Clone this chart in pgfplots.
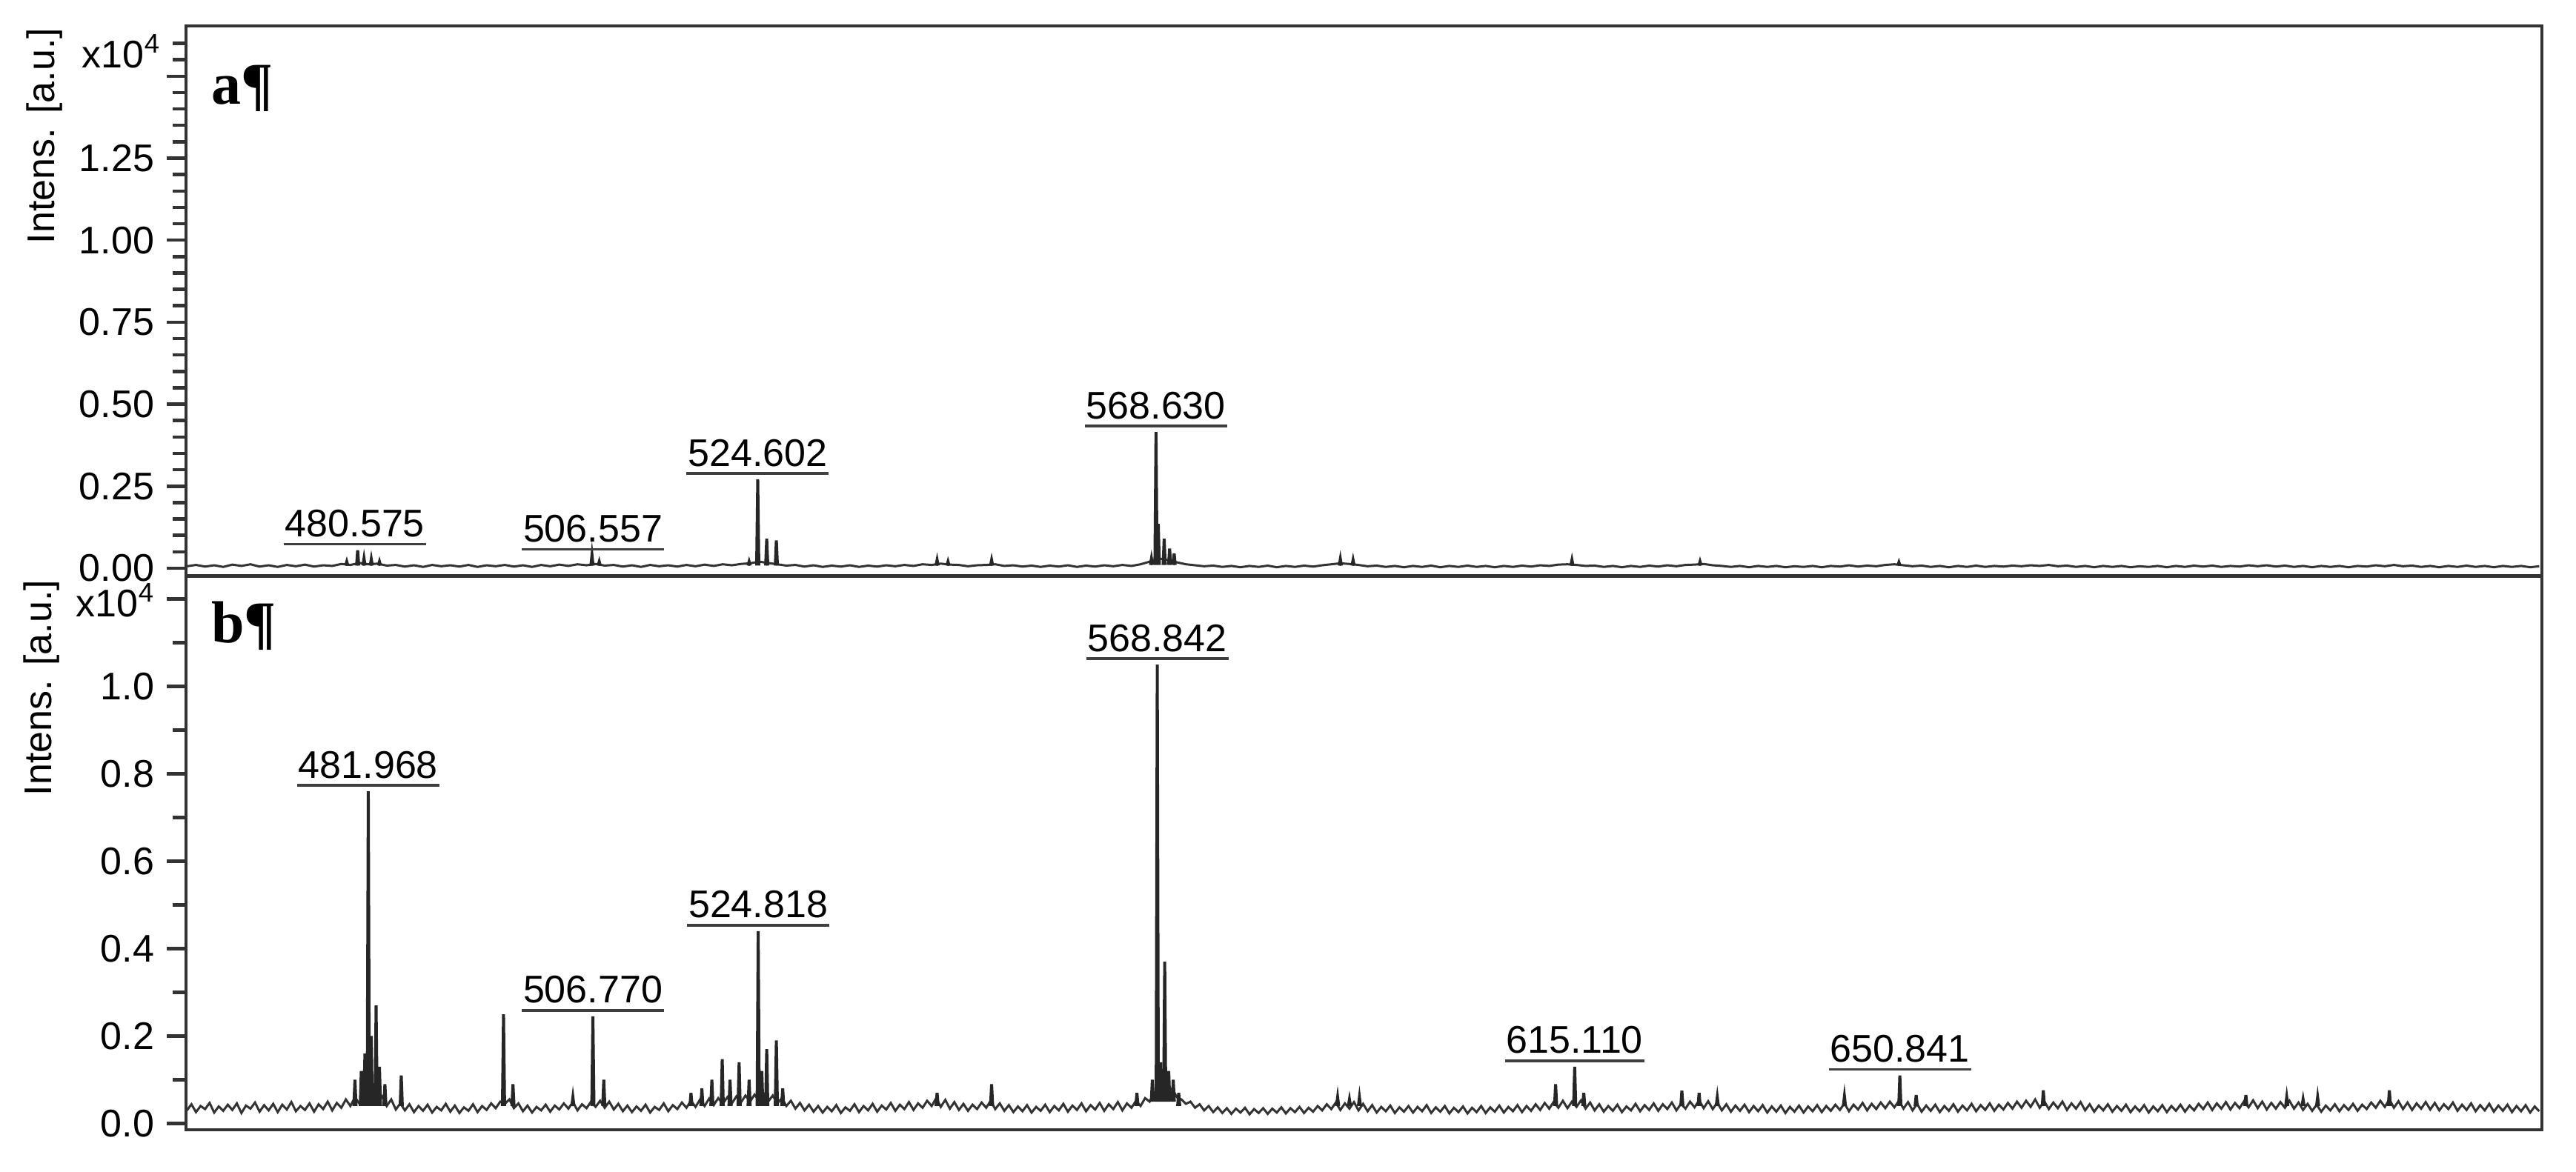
\documentclass[border=0pt]{standalone}
\usepackage{fontspec}
\setmainfont{Liberation Sans}
\newfontfamily\panelfont{Liberation Serif}
\usepackage{pgfplots}
\pgfplotsset{compat=1.18}
\usetikzlibrary{calc}
\newcommand{\lbl}{\fontsize{5.2pt}{6pt}\selectfont}
\newcommand{\pl}[3]{\node[font=\lbl, anchor=base, inner sep=0pt, yshift=1.8pt] (pl) at (axis cs:#1,#2) {#3};
  \draw[black!75, line width=0.35pt] ([yshift=-1.0pt]pl.base west) -- ([yshift=-1.0pt]pl.base east);}
\pgfplotsset{spec/.style={width=317.9pt, scale only axis, anchor=north west,
  xmin=461.9, xmax=721.3, xtick=\empty, ytick pos=left, tick align=outside,
  major tick length=2.6pt, minor tick length=1.8pt,
  axis line style={draw=black!80, line width=0.45pt},
  tick style={black!80, line width=0.45pt},
  yticklabel style={font=\lbl, inner sep=0pt, xshift=-1.5pt},
  clip=false, unbounded coords=jump},
  noise/.style={black!80, line width=0.3pt, mark=none},
  peaks/.style={black!85, line width=0.4pt, mark=none}}
\begin{document}
\begin{tikzpicture}
\path[use as bounding box] (0,0) rectangle (347.6pt,-158.1pt);
\begin{axis}[spec, name=A, at={(25.1pt,-3.5pt)}, height=74.2pt,
  ymin=-0.0226, ymax=1.653,
  ytick={0,0.25,0.5,0.75,1,1.25,1.5}, yticklabels={0.00,0.25,0.50,0.75,1.00,1.25,{}},
  minor ytick={0.05,0.1,0.15,0.2,0.3,0.35,0.4,0.45,0.55,0.6,0.65,0.7,0.8,0.85,0.9,0.95,1.05,1.1,1.15,1.2,1.3,1.35,1.4,1.45,1.55,1.6}]
\addplot[noise] coordinates {
(462,.006)(463,.010)(464,.005)(465,.009)(466,.004)(467,.011)(468,.007)(469,.012)(470,.005)(471,.009)
(472,.004)(473,.010)(474,.006)(475,.011)(476,.005)(477,.009)(478,.007)(479,.013)(480,.010)(481,.016)
(482,.012)(483,.014)(484,.008)(485,.010)(486,.005)(487,.009)(488,.004)(489,.010)(490,.006)(491,.009)
(492,.005)(493,.010)(494,.004)(495,.009)(496,.006)(497,.010)(498,.005)(499,.009)(500,.004)(501,.010)
(502,.006)(503,.011)(504,.007)(505,.012)(506,.009)(507,.013)(508,.008)(509,.010)(510,.005)(511,.009)
(512,.004)(513,.010)(514,.006)(515,.009)(516,.005)(517,.010)(518,.006)(519,.011)(520,.007)(521,.012)
(522,.009)(523,.013)(524,.015)(525,.020)(526,.016)(527,.012)(528,.008)(529,.010)(530,.005)(531,.009)
(532,.004)(533,.008)(534,.005)(535,.009)(536,.004)(537,.008)(538,.005)(539,.009)(540,.006)(541,.010)
(542,.007)(543,.012)(544,.010)(545,.014)(546,.011)(547,.010)(548,.006)(549,.009)(550,.010)(551,.012)
(552,.007)(553,.009)(554,.005)(555,.008)(556,.004)(557,.008)(558,.005)(559,.009)(560,.004)(561,.008)
(562,.005)(563,.009)(564,.006)(565,.010)(566,.007)(567,.012)(568,.020)(569,.030)(570,.025)(571,.018)
(572,.012)(573,.009)(574,.006)(575,.008)(576,.004)(577,.007)(578,.003)(579,.007)(580,.004)(581,.008)
(582,.003)(583,.007)(584,.004)(585,.008)(586,.005)(587,.009)(588,.012)(589,.015)(590,.013)(591,.010)
(592,.006)(593,.008)(594,.004)(595,.007)(596,.003)(597,.007)(598,.004)(599,.008)(600,.003)(601,.007)
(602,.004)(603,.008)(604,.004)(605,.007)(606,.003)(607,.007)(608,.004)(609,.008)(610,.005)(611,.009)
(612,.007)(613,.011)(614,.012)(615,.010)(616,.007)(617,.008)(618,.004)(619,.007)(620,.003)(621,.007)
(622,.004)(623,.008)(624,.005)(625,.009)(626,.006)(627,.010)(628,.011)(629,.013)(630,.009)(631,.007)
(632,.004)(633,.007)(634,.003)(635,.007)(636,.004)(637,.007)(638,.003)(639,.006)(640,.004)(641,.007)
(642,.003)(643,.007)(644,.005)(645,.009)(646,.005)(647,.008)(648,.006)(649,.010)(650,.012)(651,.009)
(652,.006)(653,.008)(654,.004)(655,.007)(656,.003)(657,.007)(658,.004)(659,.008)(660,.004)(661,.007)
(662,.005)(663,.008)(664,.006)(665,.009)(666,.007)(667,.010)(668,.006)(669,.008)(670,.004)(671,.007)
(672,.003)(673,.007)(674,.004)(675,.007)(676,.003)(677,.006)(678,.004)(679,.007)(680,.003)(681,.007)
(682,.004)(683,.008)(684,.005)(685,.008)(686,.004)(687,.007)(688,.005)(689,.009)(690,.006)(691,.009)
(692,.005)(693,.008)(694,.004)(695,.007)(696,.003)(697,.007)(698,.004)(699,.007)(700,.003)(701,.007)
(702,.005)(703,.009)(704,.006)(705,.010)(706,.006)(707,.008)(708,.004)(709,.007)(710,.003)(711,.007)
(712,.004)(713,.008)(714,.004)(715,.007)(716,.003)(717,.007)(718,.004)(719,.007)(720,.003)(721,.006)};
\addplot[peaks] coordinates {
(479.48,.008)(479.6,.02)(479.72,.008)(479.73,nan)
(480.68,.008)(480.8,.055)(480.92,.008)(480.93,nan)
(481.38,.008)(481.5,.03)(481.62,.008)(481.63,nan)
(482.18,.008)(482.3,.028)(482.42,.008)(482.43,nan)
(483.08,.008)(483.2,.02)(483.32,.008)(483.33,nan)
(506.48,.008)(506.6,.04)(506.72,.008)(506.73,nan)
(507.28,.008)(507.4,.02)(507.52,.008)(507.53,nan)
(523.78,.008)(523.9,.02)(524.02,.008)(524.03,nan)
(524.73,.008)(524.85,.271)(524.97,.008)(524.98,nan)
(525.72,.008)(525.84,.09)(525.96,.008)(525.97,nan)
(526.78,.008)(526.9,.085)(527.02,.008)(527.03,nan)
(544.48,.008)(544.6,.025)(544.72,.008)(544.73,nan)
(545.68,.008)(545.8,.02)(545.92,.008)(545.93,nan)
(550.48,.008)(550.6,.025)(550.72,.008)(550.73,nan)
(568.08,.01)(568.2,.03)(568.32,.01)(568.33,nan)
(568.58,.01)(568.7,.415)(568.82,.01)(568.83,nan)
(568.83,.01)(568.95,.135)(569.07,.01)(569.08,nan)
(569.48,.01)(569.6,.09)(569.72,.01)(569.73,nan)
(570.08,.01)(570.2,.06)(570.32,.01)(570.33,nan)
(570.58,.01)(570.7,.045)(570.82,.01)(570.83,nan)
(588.88,.008)(589.0,.028)(589.12,.008)(589.13,nan)
(590.28,.008)(590.4,.025)(590.52,.008)(590.53,nan)
(614.38,.008)(614.5,.025)(614.62,.008)(614.63,nan)
(628.48,.008)(628.6,.02)(628.72,.008)(628.73,nan)
(650.38,.008)(650.5,.018)(650.62,.008)};
\pl{480.5}{0.055}{480.575}
\pl{506.7}{0.04}{506.557}
\pl{524.85}{0.271}{524.602}
\pl{568.7}{0.415}{568.630}
\end{axis}
\begin{axis}[spec, name=B, at={(25.1pt,-77.8pt)}, height=74.7pt,
  ymin=-0.0144, ymax=1.2517,
  ytick={0,0.2,0.4,0.6,0.8,1.0,1.2}, yticklabels={0.0,0.2,0.4,0.6,0.8,1.0,{}},
  minor ytick={0.1,0.3,0.5,0.7,0.9,1.1}]
\addplot[noise] coordinates {
(462,.030)(462.5,.044)(463,.026)(463.5,.040)(464,.033)(464.5,.047)(465,.025)(465.5,.039)(466,.029)(466.5,.043)
(467,.031)(467.5,.046)(468,.024)(468.5,.041)(469,.034)(469.5,.048)(470,.027)(470.5,.042)(471,.030)(471.5,.045)
(472,.026)(472.5,.043)(473,.032)(473.5,.049)(474,.028)(474.5,.040)(475,.031)(475.5,.046)(476,.027)(476.5,.044)
(477,.033)(477.5,.050)(478,.030)(478.5,.047)(479,.036)(479.5,.055)(480,.040)(480.5,.060)(481,.045)(481.5,.065)
(482,.050)(482.5,.068)(483,.048)(483.5,.062)(484,.040)(484.5,.055)(485,.032)(485.5,.046)(486,.030)(486.5,.044)
(487,.026)(487.5,.040)(488,.029)(488.5,.043)(489,.025)(489.5,.038)(490,.030)(490.5,.045)(491,.027)(491.5,.041)
(492,.024)(492.5,.037)(493,.029)(493.5,.044)(494,.026)(494.5,.040)(495,.031)(495.5,.046)(496,.035)(496.5,.050)
(497,.045)(497.5,.055)(498,.035)(498.5,.046)(499,.028)(499.5,.041)(500,.025)(500.5,.038)(501,.030)(501.5,.043)
(502,.027)(502.5,.041)(503,.032)(503.5,.046)(504,.034)(504.5,.049)(505,.030)(505.5,.044)(506,.035)(506.5,.050)
(507,.038)(507.5,.052)(508,.036)(508.5,.050)(509,.032)(509.5,.045)(510,.028)(510.5,.041)(511,.026)(511.5,.039)
(512,.029)(512.5,.043)(513,.025)(513.5,.038)(514,.031)(514.5,.046)(515,.028)(515.5,.042)(516,.033)(516.5,.048)
(517,.036)(517.5,.052)(518,.038)(518.5,.055)(519,.040)(519.5,.057)(520,.042)(520.5,.058)(521,.045)(521.5,.060)
(522,.046)(522.5,.062)(523,.048)(523.5,.064)(524,.050)(524.5,.066)(525,.052)(525.5,.068)(526,.050)(526.5,.064)
(527,.046)(527.5,.058)(528,.040)(528.5,.052)(529,.034)(529.5,.047)(530,.030)(530.5,.043)(531,.027)(531.5,.040)
(532,.025)(532.5,.038)(533,.028)(533.5,.042)(534,.024)(534.5,.037)(535,.029)(535.5,.044)(536,.026)(536.5,.040)
(537,.030)(537.5,.045)(538,.027)(538.5,.041)(539,.032)(539.5,.047)(540,.029)(540.5,.043)(541,.033)(541.5,.049)
(542,.031)(542.5,.046)(543,.036)(543.5,.052)(544,.040)(544.5,.058)(545,.038)(545.5,.054)(546,.034)(546.5,.049)
(547,.031)(547.5,.045)(548,.029)(548.5,.043)(549,.033)(549.5,.048)(550,.036)(550.5,.052)(551,.033)(551.5,.046)
(552,.029)(552.5,.042)(553,.026)(553.5,.039)(554,.028)(554.5,.042)(555,.025)(555.5,.038)(556,.029)(556.5,.043)
(557,.026)(557.5,.040)(558,.030)(558.5,.045)(559,.027)(559.5,.041)(560,.031)(560.5,.046)(561,.028)(561.5,.042)
(562,.032)(562.5,.047)(563,.029)(563.5,.044)(564,.033)(564.5,.049)(565,.030)(565.5,.046)(566,.036)(566.5,.052)
(567,.040)(567.5,.058)(568,.050)(568.5,.070)(569,.080)(569.5,.090)(570,.075)(570.5,.080)(571,.060)(571.5,.055)
(572,.045)(572.5,.050)(573,.036)(573.5,.044)(574,.030)(574.5,.040)(575,.026)(575.5,.037)(576,.024)(576.5,.035)
(577,.022)(577.5,.034)(578,.025)(578.5,.036)(579,.021)(579.5,.033)(580,.024)(580.5,.035)(581,.022)(581.5,.034)
(582,.025)(582.5,.037)(583,.023)(583.5,.035)(584,.026)(584.5,.038)(585,.024)(585.5,.036)(586,.027)(586.5,.040)
(587,.030)(587.5,.044)(588,.033)(588.5,.048)(589,.031)(589.5,.046)(590,.034)(590.5,.049)(591,.030)(591.5,.045)
(592,.028)(592.5,.042)(593,.025)(593.5,.038)(594,.028)(594.5,.041)(595,.024)(595.5,.037)(596,.027)(596.5,.040)
(597,.025)(597.5,.038)(598,.028)(598.5,.042)(599,.024)(599.5,.037)(600,.027)(600.5,.040)(601,.023)(601.5,.036)
(602,.026)(602.5,.039)(603,.023)(603.5,.036)(604,.026)(604.5,.040)(605,.024)(605.5,.037)(606,.027)(606.5,.041)
(607,.025)(607.5,.038)(608,.028)(608.5,.042)(609,.026)(609.5,.040)(610,.029)(610.5,.044)(611,.031)(611.5,.047)
(612,.034)(612.5,.050)(613,.036)(613.5,.052)(614,.035)(614.5,.050)(615,.038)(615.5,.053)(616,.034)(616.5,.048)
(617,.030)(617.5,.044)(618,.027)(618.5,.040)(619,.029)(619.5,.043)(620,.026)(620.5,.039)(621,.030)(621.5,.045)
(622,.028)(622.5,.042)(623,.031)(623.5,.046)(624,.029)(624.5,.044)(625,.033)(625.5,.048)(626,.030)(626.5,.045)
(627,.034)(627.5,.050)(628,.037)(628.5,.053)(629,.035)(629.5,.051)(630,.033)(630.5,.048)(631,.030)(631.5,.044)
(632,.027)(632.5,.041)(633,.029)(633.5,.043)(634,.026)(634.5,.040)(635,.028)(635.5,.042)(636,.025)(636.5,.039)
(637,.027)(637.5,.041)(638,.024)(638.5,.038)(639,.027)(639.5,.041)(640,.025)(640.5,.039)(641,.028)(641.5,.042)
(642,.026)(642.5,.040)(643,.029)(643.5,.043)(644,.031)(644.5,.046)(645,.028)(645.5,.043)(646,.032)(646.5,.047)
(647,.030)(647.5,.045)(648,.033)(648.5,.048)(649,.035)(649.5,.050)(650,.037)(650.5,.052)(651,.034)(651.5,.049)
(652,.030)(652.5,.045)(653,.027)(653.5,.041)(654,.029)(654.5,.043)(655,.026)(655.5,.040)(656,.029)(656.5,.044)
(657,.027)(657.5,.041)(658,.030)(658.5,.045)(659,.028)(659.5,.042)(660,.031)(660.5,.046)(661,.029)(661.5,.043)
(662,.032)(662.5,.047)(663,.034)(663.5,.050)(664,.036)(664.5,.052)(665,.038)(665.5,.055)(666,.036)(666.5,.051)
(667,.033)(667.5,.048)(668,.035)(668.5,.050)(669,.031)(669.5,.046)(670,.034)(670.5,.049)(671,.030)(671.5,.044)
(672,.027)(672.5,.041)(673,.030)(673.5,.044)(674,.027)(674.5,.040)(675,.029)(675.5,.043)(676,.026)(676.5,.039)
(677,.028)(677.5,.042)(678,.025)(678.5,.039)(679,.028)(679.5,.042)(680,.026)(680.5,.040)(681,.029)(681.5,.043)
(682,.027)(682.5,.041)(683,.030)(683.5,.045)(684,.033)(684.5,.048)(685,.031)(685.5,.046)(686,.034)(686.5,.049)
(687,.032)(687.5,.047)(688,.035)(688.5,.051)(689,.037)(689.5,.053)(690,.035)(690.5,.050)(691,.032)(691.5,.047)
(692,.034)(692.5,.049)(693,.036)(693.5,.052)(694,.034)(694.5,.048)(695,.031)(695.5,.045)(696,.029)(696.5,.043)
(697,.027)(697.5,.041)(698,.030)(698.5,.044)(699,.028)(699.5,.042)(700,.031)(700.5,.045)(701,.029)(701.5,.043)
(702,.033)(702.5,.048)(703,.036)(703.5,.052)(704,.038)(704.5,.055)(705,.036)(705.5,.051)(706,.033)(706.5,.048)
(707,.031)(707.5,.046)(708,.034)(708.5,.049)(709,.032)(709.5,.047)(710,.030)(710.5,.044)(711,.033)(711.5,.048)
(712,.029)(712.5,.043)(713,.031)(713.5,.046)(714,.028)(714.5,.042)(715,.030)(715.5,.045)(716,.027)(716.5,.041)
(717,.029)(717.5,.043)(718,.026)(718.5,.040)(719,.028)(719.5,.042)(720,.025)(720.5,.039)(721,.028)};
\addplot[peaks] coordinates {
(480.38,.04)(480.5,.10)(480.62,.04)(480.63,nan)
(481.08,.04)(481.2,.12)(481.32,.04)(481.33,nan)
(481.48,.04)(481.6,.16)(481.72,.04)(481.73,nan)
(481.85,.04)(481.97,.76)(482.09,.04)(482.1,nan)
(482.18,.04)(482.3,.20)(482.42,.04)(482.43,nan)
(482.71,.04)(482.83,.27)(482.95,.04)(482.96,nan)
(483.08,.04)(483.2,.13)(483.32,.04)(483.33,nan)
(483.68,.04)(483.8,.09)(483.92,.04)(483.93,nan)
(485.48,.04)(485.6,.11)(485.72,.04)(485.73,nan)
(496.74,.04)(496.86,.25)(496.98,.04)(496.99,nan)
(497.78,.04)(497.9,.09)(498.02,.04)(498.03,nan)
(504.38,.04)(504.5,.06)(504.62,.04)(504.63,nan)
(506.58,.04)(506.7,.245)(506.82,.04)(506.83,nan)
(507.78,.04)(507.9,.10)(508.02,.04)(508.03,nan)
(517.38,.04)(517.5,.07)(517.62,.04)(517.63,nan)
(518.58,.04)(518.7,.08)(518.82,.04)(518.83,nan)
(519.68,.04)(519.8,.10)(519.92,.04)(519.93,nan)
(520.82,.04)(520.94,.147)(521.06,.04)(521.07,nan)
(521.68,.04)(521.8,.10)(521.92,.04)(521.93,nan)
(522.68,.04)(522.8,.14)(522.92,.04)(522.93,nan)
(523.78,.04)(523.9,.10)(524.02,.04)(524.03,nan)
(524.78,.04)(524.9,.44)(525.02,.04)(525.03,nan)
(525.18,.04)(525.3,.12)(525.42,.04)(525.43,nan)
(525.72,.04)(525.84,.17)(525.96,.04)(525.97,nan)
(526.78,.04)(526.9,.19)(527.02,.04)(527.03,nan)
(527.48,.04)(527.6,.08)(527.72,.04)(527.73,nan)
(544.48,.04)(544.6,.07)(544.72,.04)(544.73,nan)
(550.48,.04)(550.6,.09)(550.72,.04)(550.73,nan)
(566.48,.04)(566.6,.07)(566.72,.04)(566.73,nan)
(568.18,.05)(568.3,.10)(568.42,.05)(568.43,nan)
(568.72,.05)(568.84,1.05)(568.96,.05)(568.97,nan)
(569.08,.05)(569.2,.14)(569.32,.05)(569.33,nan)
(569.54,.05)(569.66,.37)(569.78,.05)(569.79,nan)
(569.98,.05)(570.1,.12)(570.22,.05)(570.23,nan)
(570.48,.05)(570.6,.10)(570.72,.05)(570.73,nan)
(571.08,.04)(571.2,.07)(571.32,.04)(571.33,nan)
(588.58,.04)(588.7,.06)(588.82,.04)(588.83,nan)
(589.88,.04)(590.0,.055)(590.12,.04)(590.13,nan)
(590.98,.04)(591.1,.06)(591.22,.04)(591.23,nan)
(612.58,.04)(612.7,.09)(612.82,.04)(612.83,nan)
(614.68,.04)(614.8,.13)(614.92,.04)(614.93,nan)
(615.68,.04)(615.8,.07)(615.92,.04)(615.93,nan)
(626.48,.04)(626.6,.075)(626.72,.04)(626.73,nan)
(628.38,.04)(628.5,.07)(628.62,.04)(628.63,nan)
(630.38,.04)(630.5,.06)(630.62,.04)(630.63,nan)
(644.38,.04)(644.5,.062)(644.62,.04)(644.63,nan)
(650.48,.04)(650.6,.11)(650.72,.04)(650.73,nan)
(652.28,.04)(652.4,.065)(652.52,.04)(652.53,nan)
(666.28,.04)(666.4,.076)(666.52,.04)(666.53,nan)
(688.58,.04)(688.7,.065)(688.82,.04)(688.83,nan)
(693.08,.04)(693.2,.06)(693.32,.04)(693.33,nan)
(694.88,.04)(695.0,.055)(695.12,.04)(695.13,nan)
(696.48,.04)(696.6,.06)(696.72,.04)(696.73,nan)
(704.38,.04)(704.5,.076)(704.62,.04)};
\pl{481.97}{0.76}{481.968}
\pl{506.7}{0.245}{506.770}
\pl{524.9}{0.44}{524.818}
\pl{568.84}{1.05}{568.842}
\pl{614.8}{0.13}{615.110}
\pl{650.6}{0.11}{650.841}
\end{axis}
\node[rotate=90, anchor=east, font=\lbl, inner sep=0pt] at ($(A.north west)+(-19.1pt,-0.1pt)$) {Intens. [a.u.]};
\node[rotate=90, anchor=east, font=\lbl, inner sep=0pt] at ($(B.north west)+(-19.5pt,-0.3pt)$) {Intens. [a.u.]};
\node[anchor=east, font=\lbl, inner sep=0pt] at ($(A.north west)+(-2.9pt,-3.4pt)$) {x10\textsuperscript{4}};
\node[anchor=east, font=\lbl, inner sep=0pt] at ($(B.north west)+(-3.7pt,-3.2pt)$) {x10\textsuperscript{4}};
\node[anchor=base west, inner sep=0pt, font=\panelfont\bfseries\fontsize{8pt}{9pt}\selectfont] at ($(A.north west)+(3.2pt,-10.5pt)$) {a¶};
\node[anchor=base west, inner sep=0pt, font=\panelfont\bfseries\fontsize{8pt}{9pt}\selectfont] at ($(B.north west)+(3.2pt,-8.9pt)$) {b¶};
\end{tikzpicture}
\end{document}
